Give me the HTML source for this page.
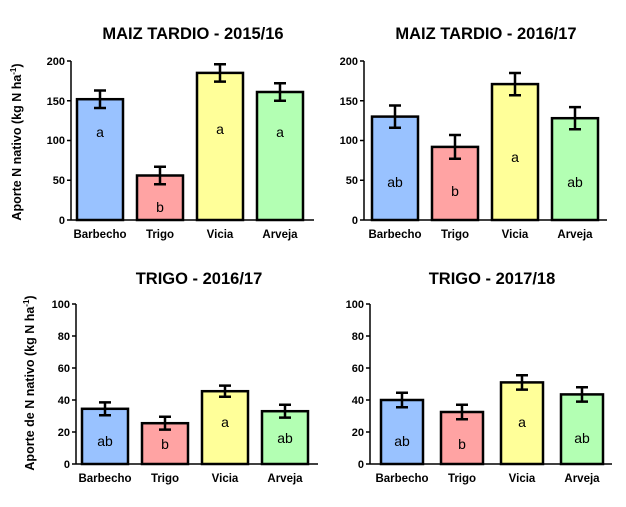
<!DOCTYPE html>
<html><head><meta charset="utf-8"><style>
body{margin:0;background:#fff}
text{font-family:"Liberation Sans",sans-serif;fill:#000}
.t{font-size:16.5px;font-weight:bold;text-anchor:middle}
.tk{font-size:11px;font-weight:bold;text-anchor:end}
.xl{font-size:11.5px;font-weight:bold;text-anchor:middle}
.lt{font-size:14px;text-anchor:middle}
.yl{font-size:12.5px;font-weight:bold;text-anchor:middle}
.bar{stroke:#000;stroke-width:2.5}
.ax{stroke:#000;stroke-width:1.5;fill:none}
.eb{stroke:#000;stroke-width:2.5;fill:none}
</style></head><body>
<svg width="626" height="502" viewBox="0 0 626 502" xmlns="http://www.w3.org/2000/svg">
<!-- TL -->
<text class="t" x="193" y="39">MAIZ TARDIO - 2015/16</text>
<text class="yl" transform="translate(21,142) rotate(-90)">Aporte N nativo (kg N ha<tspan font-size="8" dy="-5">-1</tspan><tspan dy="5">)</tspan></text>
<path class="ax" d="M71,61V220H314M67,61H71M67,100.7H71M67,140.5H71M67,180.2H71M67,220H71"/>
<text class="tk" x="65" y="65">200</text><text class="tk" x="65" y="105">150</text><text class="tk" x="65" y="144">100</text><text class="tk" x="65" y="184">50</text><text class="tk" x="65" y="224">0</text>
<rect class="bar" fill="#99c2ff" x="77" y="99.2" width="46" height="120.8"/>
<rect class="bar" fill="#ffa3a3" x="137" y="175.5" width="46" height="44.5"/>
<rect class="bar" fill="#ffff99" x="197" y="72.9" width="46" height="147.1"/>
<rect class="bar" fill="#b3ffb3" x="257" y="92" width="46" height="128"/>
<path class="eb" d="M100,90.5V108M94,90.5H106M94,108H106M160,166.8V184.2M154,166.8H166M154,184.2H166M220,64.2V81.6M214,64.2H226M214,81.6H226M280,83.3V100.7M274,83.3H286M274,100.7H286"/>
<text class="lt" x="100" y="137">a</text><text class="lt" x="160" y="212">b</text><text class="lt" x="220" y="134">a</text><text class="lt" x="280" y="137">a</text>
<text class="xl" x="100" y="238">Barbecho</text><text class="xl" x="160" y="238">Trigo</text><text class="xl" x="220" y="238">Vicia</text><text class="xl" x="280" y="238">Arveja</text>
<!-- TR -->
<text class="t" x="486" y="39">MAIZ TARDIO - 2016/17</text>
<path class="ax" d="M364,61V220H607M360,61H364M360,100.7H364M360,140.5H364M360,180.2H364M360,220H364"/>
<text class="tk" x="358" y="65">200</text><text class="tk" x="358" y="105">150</text><text class="tk" x="358" y="144">100</text><text class="tk" x="358" y="184">50</text><text class="tk" x="358" y="224">0</text>
<rect class="bar" fill="#99c2ff" x="372" y="116.6" width="46" height="103.4"/>
<rect class="bar" fill="#ffa3a3" x="432" y="146.9" width="46" height="73.1"/>
<rect class="bar" fill="#ffff99" x="492" y="84.1" width="46" height="135.9"/>
<rect class="bar" fill="#b3ffb3" x="552" y="118.2" width="46" height="101.8"/>
<path class="eb" d="M395,105.5V127.7M389,105.5H401M389,127.7H401M455,135V158.8M449,135H461M449,158.8H461M515,73V95.2M509,73H521M509,95.2H521M575,107.1V129.3M569,107.1H581M569,129.3H581"/>
<text class="lt" x="395" y="187">ab</text><text class="lt" x="455" y="196">b</text><text class="lt" x="515" y="162">a</text><text class="lt" x="575" y="187">ab</text>
<text class="xl" x="395" y="238">Barbecho</text><text class="xl" x="455" y="238">Trigo</text><text class="xl" x="515" y="238">Vicia</text><text class="xl" x="575" y="238">Arveja</text>
<!-- BL -->
<text class="t" x="199" y="284">TRIGO - 2016/17</text>
<text class="yl" transform="translate(34,383) rotate(-90)">Aporte de N nativo (kg N ha<tspan font-size="8" dy="-5">-1</tspan><tspan dy="5">)</tspan></text>
<path class="ax" d="M76,304V464H318M72,304H76M72,336H76M72,368H76M72,400H76M72,432H76M72,464H76"/>
<text class="tk" x="70" y="308">100</text><text class="tk" x="70" y="340">80</text><text class="tk" x="70" y="372">60</text><text class="tk" x="70" y="404">40</text><text class="tk" x="70" y="436">20</text><text class="tk" x="70" y="468">0</text>
<rect class="bar" fill="#99c2ff" x="82" y="408.8" width="46" height="55.2"/>
<rect class="bar" fill="#ffa3a3" x="142" y="423.2" width="46" height="40.8"/>
<rect class="bar" fill="#ffff99" x="202" y="391.2" width="46" height="72.8"/>
<rect class="bar" fill="#b3ffb3" x="262" y="411.2" width="46" height="52.8"/>
<path class="eb" d="M105,402.4V415.2M99,402.4H111M99,415.2H111M165,416.8V429.6M159,416.8H171M159,429.6H171M225,385.6V396.8M219,385.6H231M219,396.8H231M285,404.8V417.6M279,404.8H291M279,417.6H291"/>
<text class="lt" x="105" y="446">ab</text><text class="lt" x="165" y="449">b</text><text class="lt" x="225" y="427">a</text><text class="lt" x="285" y="443">ab</text>
<text class="xl" x="105" y="482">Barbecho</text><text class="xl" x="165" y="482">Trigo</text><text class="xl" x="225" y="482">Vicia</text><text class="xl" x="285" y="482">Arveja</text>
<!-- BR -->
<text class="t" x="492" y="284">TRIGO - 2017/18</text>
<path class="ax" d="M370,304V464H612M366,304H370M366,336H370M366,368H370M366,400H370M366,432H370M366,464H370"/>
<text class="tk" x="364" y="308">100</text><text class="tk" x="364" y="340">80</text><text class="tk" x="364" y="372">60</text><text class="tk" x="364" y="404">40</text><text class="tk" x="364" y="436">20</text><text class="tk" x="364" y="468">0</text>
<rect class="bar" fill="#99c2ff" x="381" y="400" width="42" height="64"/>
<rect class="bar" fill="#ffa3a3" x="441" y="412" width="42" height="52"/>
<rect class="bar" fill="#ffff99" x="501" y="382.4" width="42" height="81.6"/>
<rect class="bar" fill="#b3ffb3" x="561" y="394.4" width="42" height="69.6"/>
<path class="eb" d="M402,392.8V407.2M396,392.8H408M396,407.2H408M462,404.8V419.2M456,404.8H468M456,419.2H468M522,375.2V389.6M516,375.2H528M516,389.6H528M582,387.2V401.6M576,387.2H588M576,401.6H588"/>
<text class="lt" x="402" y="446">ab</text><text class="lt" x="462" y="449">b</text><text class="lt" x="522" y="427">a</text><text class="lt" x="582" y="443">ab</text>
<text class="xl" x="402" y="482">Barbecho</text><text class="xl" x="462" y="482">Trigo</text><text class="xl" x="522" y="482">Vicia</text><text class="xl" x="582" y="482">Arveja</text>
</svg>
</body></html>
